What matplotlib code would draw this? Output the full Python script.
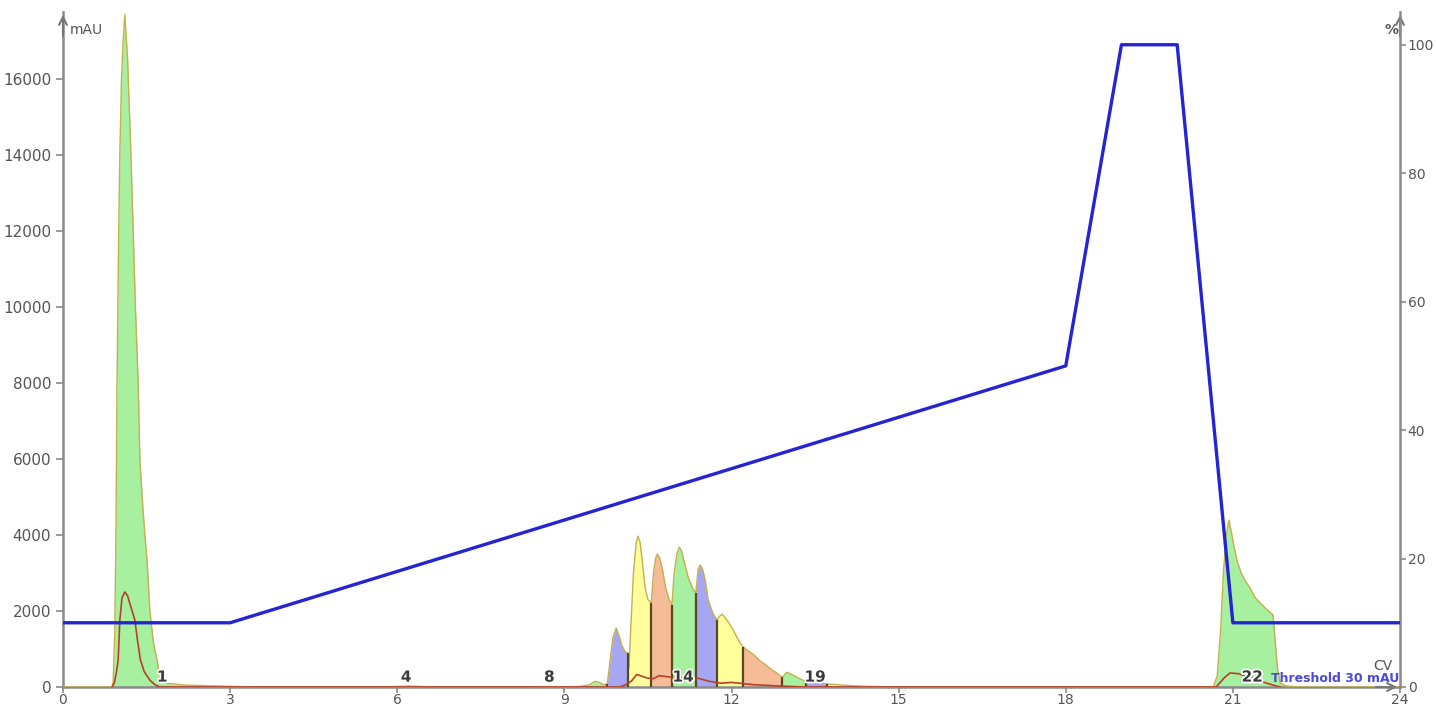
import numpy as np
import matplotlib
matplotlib.use("Agg")
import matplotlib.pyplot as plt
import matplotlib.patheffects as pe

# UV trace (CV, mAU)
trace_cv = [0.0, 0.88, 0.90, 0.93, 0.95, 0.96, 0.97, 1.00, 1.02, 1.05, 1.08, 1.11, 1.16, 1.22, 1.26,
            1.30, 1.35, 1.38, 1.43, 1.47, 1.51, 1.56, 1.62, 1.69, 1.74, 1.85, 2.2, 3.2, 3.3,
            5.8, 5.9, 6.2, 6.5, 6.6, 8.5, 8.7, 8.9, 9.0,
            9.3, 9.45, 9.55, 9.62, 9.70, 9.77, 9.82, 9.87, 9.93, 9.98, 10.03, 10.08, 10.14,
            10.16, 10.19, 10.24, 10.29, 10.32, 10.36, 10.40, 10.45, 10.50, 10.56,
            10.60, 10.64, 10.67, 10.71, 10.76, 10.82, 10.88, 10.93,
            10.97, 11.02, 11.06, 11.10, 11.15, 11.22, 11.30, 11.36,
            11.40, 11.44, 11.48, 11.53, 11.58, 11.65, 11.70, 11.74,
            11.78, 11.83, 11.90, 11.97, 12.03, 12.10, 12.16, 12.21,
            12.30, 12.40, 12.50, 12.60, 12.70, 12.80, 12.91,
            12.94, 12.99, 13.05, 13.15, 13.25, 13.33,
            13.45, 13.55, 13.65, 13.72, 13.9, 14.1, 14.3, 14.5, 14.7, 14.8,
            20.65, 20.72, 20.78, 20.83, 20.88, 20.93, 20.97, 21.02, 21.08, 21.15, 21.22, 21.31,
            21.40, 21.50, 21.60, 21.72, 21.76, 21.80, 21.85, 21.95, 22.2, 24.0]
trace_mau = [0, 0, 150, 1500, 4000, 6000, 8000, 12000, 14000, 16000, 17000, 17700, 16500, 14000, 12000,
             10000, 8000, 6000, 4800, 4000, 3300, 2000, 1200, 700, 200, 100, 50, 10, 0,
             0, 10, 25, 10, 0, 0, 12, 5, 0,
             20, 60, 150, 130, 60, 80, 700, 1300, 1550, 1350, 1100, 950, 890,
             500, 1500, 3000, 3800, 3970, 3800, 3300, 2600, 2300, 2210,
             3000, 3400, 3500, 3400, 3100, 2600, 2300, 2160,
             3000, 3500, 3680, 3600, 3300, 2900, 2600, 2470,
             3100, 3210, 3100, 2800, 2300, 2000, 1850, 1760,
             1850, 1920, 1800, 1650, 1500, 1300, 1150, 1050,
             950, 850, 700, 600, 480, 380, 260,
             300, 390, 350, 280, 200, 150,
             120, 100, 90, 80, 60, 40, 25, 15, 5, 0,
             0, 300, 1500, 3000, 4000, 4390, 4100, 3700, 3300, 3000, 2800, 2600,
             2350, 2200, 2050, 1900, 1200, 500, 100, 30, 0, 0]

# second wavelength trace
red_cv = [0.88, 0.92, 0.96, 0.99, 1.02, 1.06, 1.11, 1.16, 1.22, 1.29, 1.34, 1.39, 1.46, 1.56, 1.65, 1.74,
          10.0, 10.1, 10.2, 10.3, 10.4, 10.5, 10.6, 10.7, 10.9, 11.0, 11.2, 11.4, 11.6, 11.8, 12.0,
          12.4, 12.8, 13.3,
          20.7, 20.85, 20.95, 21.1, 21.3, 21.5, 21.7, 21.85]
red_mau = [0, 100, 400, 700, 1760, 2350, 2500, 2400, 2100, 1760, 1200, 710, 400, 180, 60, 0,
           0, 60, 150, 330, 280, 230, 220, 300, 260, 200, 280, 230, 150, 100, 120,
           60, 30, 0,
           0, 250, 370, 350, 250, 150, 60, 0]

# gradient (%B)
gradient_cv = [0, 3, 18, 19, 20, 21, 24]
gradient_pct = [10, 10, 50, 100, 100, 10, 10]

# fractions: start, end, fill colour
GREEN, YELLOW, ORANGE, PURPLE = "#a6f0a0", "#ffff9c", "#f6bc98", "#a6a6f2"
frac_start = [0.88, 5.8, 8.5, 9.0, 9.77, 10.14, 10.56, 10.93, 11.36, 11.74, 12.21, 12.91, 13.33, 13.72, 20.65]
frac_end = [3.3, 6.6, 8.9, 9.77, 10.14, 10.56, 10.93, 11.36, 11.74, 12.21, 12.91, 13.33, 13.72, 14.8, 22.2]
frac_color = [GREEN, YELLOW, YELLOW, GREEN, PURPLE, YELLOW, ORANGE, GREEN, PURPLE, YELLOW, ORANGE,
              GREEN, PURPLE, YELLOW, GREEN]
frac_marks = [9.77, 10.14, 10.56, 10.93, 11.36, 11.74, 12.21, 12.91, 13.33, 13.72]

label_text = ["1", "4", "8", "14", "19", "22"]
label_cv = [1.78, 6.16, 8.73, 11.13, 13.5, 21.35]

x = np.array(trace_cv)
y = np.array(trace_mau)

fig = plt.figure(figsize=(14.36, 7.10), dpi=100)
ax = fig.add_axes([63/1436, 1-687/710, (1400-63)/1436, 675/710])
ax2 = ax.twinx()

for a, b, c in zip(frac_start, frac_end, frac_color):
    m = (x >= a) & (x <= b)
    ax.fill_between(x[m], 0, y[m], color=c, lw=0, zorder=2)

ax.plot(x, y, color="#c4b04c", lw=1.0, zorder=3)
ax.vlines(frac_marks, 0, np.interp(frac_marks, x, y), color="#5a4820", lw=1.6, zorder=3)
ax.plot(red_cv, red_mau, color="#b8402a", lw=1.2, zorder=4)

for t, cv in zip(label_text, label_cv):
    ax.text(cv, 260, t, ha="center", va="center", fontsize=11, fontweight="bold", color="#3a3a3a",
            zorder=6, path_effects=[pe.withStroke(linewidth=2.5, foreground="white")])

ax2.plot(gradient_cv, gradient_pct, color="#2424d4", lw=2.4, zorder=5)

ax.set_xlim(0, 24)
ax.set_ylim(0, 17763)
ax2.set_ylim(0, 105.1)
ax.set_xticks(np.arange(0, 25, 3))
ax.set_yticks(np.arange(0, 16001, 2000))
ax2.set_yticks(np.arange(0, 101, 20))

grey = "#8a8a8a"
for a in (ax, ax2):
    for s in a.spines.values():
        s.set_color(grey)
        s.set_linewidth(1.8)
    a.spines["top"].set_visible(False)
    a.tick_params(colors=grey, labelcolor="#555555", labelsize=11, length=5, width=1.2)
ax.tick_params(axis="x", labelsize=10, length=4, pad=0.5)
ax2.tick_params(axis="y", labelsize=10, length=4, pad=1.5)
ax.spines["right"].set_visible(False)
ax2.spines["left"].set_visible(False)
ax2.spines["bottom"].set_visible(False)

arrow = dict(arrowstyle="->", color="#777777", lw=1.5, mutation_scale=14)
ax.annotate("", xy=(0, 1.0), xytext=(0, 0.96), xycoords="axes fraction", arrowprops=arrow)
ax.annotate("", xy=(1, 1.0), xytext=(1, 0.96), xycoords="axes fraction", arrowprops=arrow)
ax.annotate("", xy=(1.0, 0), xytext=(0.98, 0), xycoords="axes fraction", arrowprops=arrow)

ax.text(0.12, 17300, "mAU", fontsize=10, color="#555555", va="center")
ax.text(23.72, 17300, "%", fontsize=10, color="#555555", va="center", fontweight="bold")
ax.text(23.7, 560, "CV", fontsize=10, color="#555555", ha="center", va="center")
ax2.text(23.98, 0.3, "Threshold 30 mAU", fontsize=9, color="#4a4ad8", ha="right", va="bottom",
         fontweight="bold", zorder=7)

fig.savefig("out.png", dpi=100)
